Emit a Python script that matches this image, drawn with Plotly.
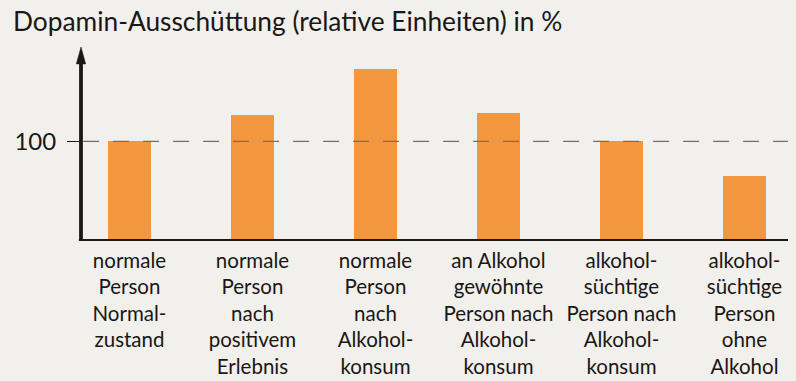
import plotly.graph_objects as go

categories = [
    "normale<br>Person<br>Normal-<br>zustand",
    "normale<br>Person<br>nach<br>positivem<br>Erlebnis",
    "normale<br>Person<br>nach<br>Alkohol-<br>konsum",
    "an Alkohol<br>gewöhnte<br>Person nach<br>Alkohol-<br>konsum",
    "alkohol-<br>süchtige<br>Person nach<br>Alkohol-<br>konsum",
    "alkohol-<br>süchtige<br>Person<br>ohne<br>Alkohol",
]
values = [100, 126, 172.5, 128.5, 100, 65]
tick_vals = [100]
tick_text = ["100"]
title_text = "Dopamin-Ausschüttung (relative Einheiten) in %"

FONT = "Lato"
BG = "#f1f0ec"
BAR = "#f3973f"
INK = "#1a1715"

x_idx = list(range(len(categories)))
ymax = 194.6
xmin, xmax = -0.394, 5.354

fig = go.Figure()
fig.add_trace(go.Bar(
    x=x_idx, y=values, width=0.35,
    marker=dict(color=BAR, line=dict(width=0)),
    hoverinfo="skip",
))

# reference dashed line at 100 (drawn above bars)
fig.add_shape(type="line", xref="paper", yref="y", x0=0.003, x1=1, y0=100, y1=100,
              line=dict(color="#6f6e6c", width=1.3, dash="16px,14px"), layer="above")
# x axis line
fig.add_shape(type="line", xref="paper", yref="y", x0=-0.003, x1=1, y0=0, y1=0,
              line=dict(color=INK, width=3.8), layer="above")
# y axis line
fig.add_shape(type="line", xref="paper", yref="y", x0=0, x1=0, y0=0, y1=ymax - 16,
              line=dict(color=INK, width=3.8), layer="above")
# arrow head
ah = 0.0066  # half width in paper units
fig.add_shape(type="path", xref="paper", yref="y",
              path=f"M {-ah} {ymax-17} L 0 {ymax} L {ah} {ymax-17} Z",
              fillcolor=INK, line=dict(color=INK, width=0.5), layer="above")

fig.update_layout(
    width=796, height=381,
    margin=dict(l=81, r=8, t=47, b=140),
    paper_bgcolor=BG, plot_bgcolor=BG,
    showlegend=False,
    font=dict(family=FONT, color=INK),
    bargap=0,
    title=dict(text=title_text, xref="container", yref="container",
               x=13/796, xanchor="left", y=1-13/381, yanchor="top",
               font=dict(family=FONT, size=26.3, color=INK)),
    xaxis=dict(range=[xmin, xmax], tickvals=x_idx, ticktext=categories,
               showgrid=False, zeroline=False, showline=False, ticks="",
               automargin=False, ticklabelstandoff=5,
               tickfont=dict(family=FONT, size=20.5, color=INK), tickangle=0,
               fixedrange=True),
    yaxis=dict(range=[0, ymax], tickvals=tick_vals, ticktext=tick_text,
               showgrid=False, zeroline=False, showline=False,
               ticks="outside", ticklen=13, tickwidth=1.6, tickcolor=INK,
               ticklabelstandoff=6, automargin=False,
               tickfont=dict(family=FONT, size=24, color=INK), fixedrange=True),
)

fig.write_html("out.html", config={"displayModeBar": False, "staticPlot": True},
               post_script="document.body.style.margin='0';document.body.style.background='%s';" % BG)
